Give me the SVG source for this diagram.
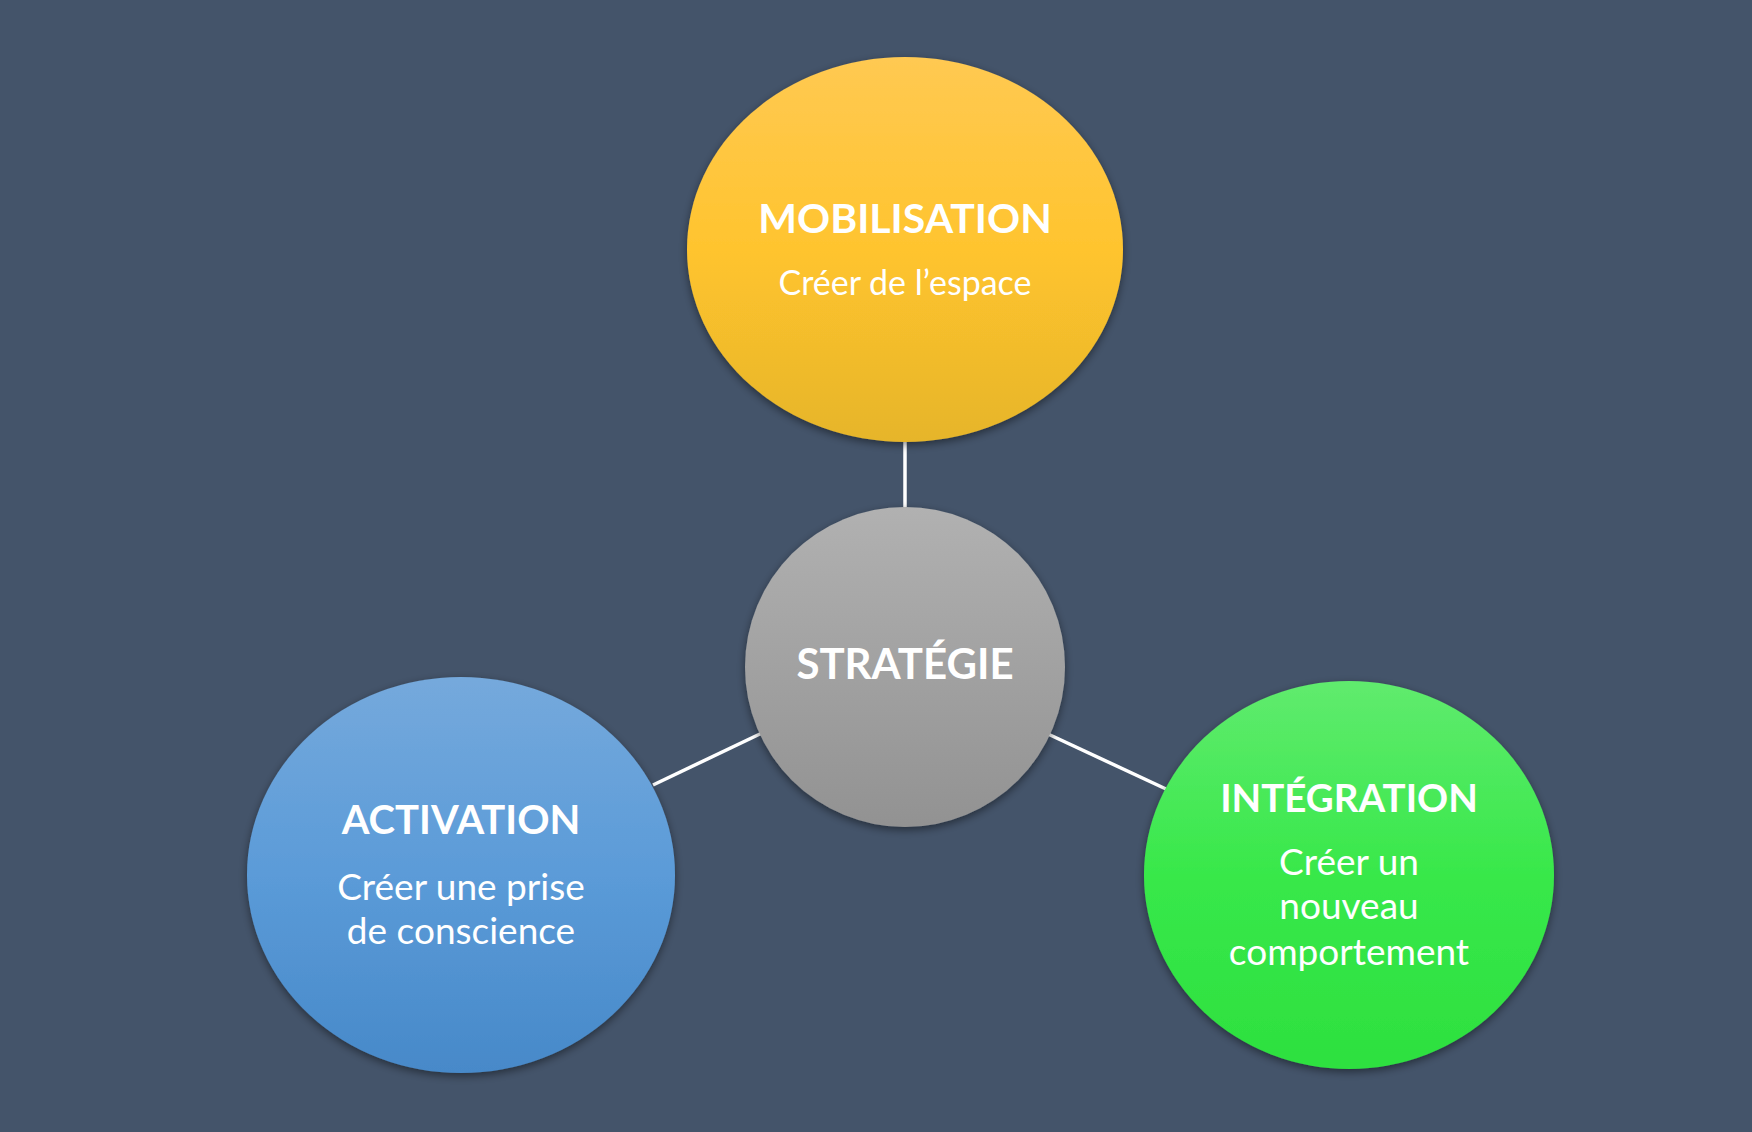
<svg xmlns="http://www.w3.org/2000/svg" width="1752" height="1132" viewBox="0 0 1752 1132">
  <style>
    .title { font-family: Lato, "Open Sans", "Liberation Sans", sans-serif; font-weight: 700; font-size: 41px; fill: #ffffff; text-anchor: middle; }
    .sub { font-family: Lato, "Open Sans", "Liberation Sans", sans-serif; font-weight: 400; font-size: 37px; fill: #ffffff; text-anchor: middle; }
    .conn { stroke: #ffffff; stroke-width: 3.5; fill: none; }
  </style>
  <defs>
    <linearGradient id="gYellow" x1="0" y1="0" x2="0" y2="1">
      <stop offset="0" stop-color="#FFC952"/>
      <stop offset="0.5" stop-color="#FFC42E"/>
      <stop offset="1" stop-color="#E6B52A"/>
    </linearGradient>
    <linearGradient id="gGray" x1="0" y1="0" x2="0" y2="1">
      <stop offset="0" stop-color="#B1B1B1"/>
      <stop offset="1" stop-color="#929292"/>
    </linearGradient>
    <linearGradient id="gBlue" x1="0" y1="0" x2="0" y2="1">
      <stop offset="0" stop-color="#75A9DC"/>
      <stop offset="0.5" stop-color="#5B9BD8"/>
      <stop offset="1" stop-color="#4789C9"/>
    </linearGradient>
    <linearGradient id="gGreen" x1="0" y1="0" x2="0" y2="1">
      <stop offset="0" stop-color="#60EB6E"/>
      <stop offset="0.5" stop-color="#38E84A"/>
      <stop offset="1" stop-color="#2DE03F"/>
    </linearGradient>
    <filter id="shadow" x="-20%" y="-20%" width="140%" height="140%">
      <feDropShadow dx="0" dy="3" stdDeviation="4" flood-color="#000000" flood-opacity="0.45"/>
    </filter>
  </defs>
  <rect x="0" y="0" width="1752" height="1132" fill="#44546A"/>
  <g id="connectors">
    <line class="conn" x1="905" y1="442" x2="905" y2="507"/>
    <line class="conn" x1="653" y1="785" x2="762" y2="733"/>
    <line class="conn" x1="1048" y1="734" x2="1166" y2="789"/>
  </g>
  <g id="node-mobilisation">
    <ellipse cx="905" cy="249.5" rx="218" ry="192.5" fill="url(#gYellow)" filter="url(#shadow)"/>
    <text class="title" x="905" y="233">MOBILISATION</text>
    <text class="sub" x="905" y="295" style="font-size:34px">Créer de l’espace</text>
  </g>
  <g id="node-strategie">
    <circle cx="905" cy="667" r="160" fill="url(#gGray)" filter="url(#shadow)"/>
    <text class="title" x="905" y="679" style="font-size:42px">STRATÉGIE</text>
  </g>
  <g id="node-activation">
    <ellipse cx="461" cy="875" rx="214" ry="198" fill="url(#gBlue)" filter="url(#shadow)"/>
    <text class="title" x="461" y="834" style="font-size:40px">ACTIVATION</text>
    <text class="sub" x="461" y="900">Créer une prise</text>
    <text class="sub" x="461" y="944">de conscience</text>
  </g>
  <g id="node-integration">
    <ellipse cx="1349" cy="875" rx="205" ry="194" fill="url(#gGreen)" filter="url(#shadow)"/>
    <text class="title" x="1349" y="812" style="font-size:38.5px">INTÉGRATION</text>
    <text class="sub" x="1349" y="875">Créer un</text>
    <text class="sub" x="1349" y="919">nouveau</text>
    <text class="sub" x="1349" y="965">comportement</text>
  </g>
</svg>
